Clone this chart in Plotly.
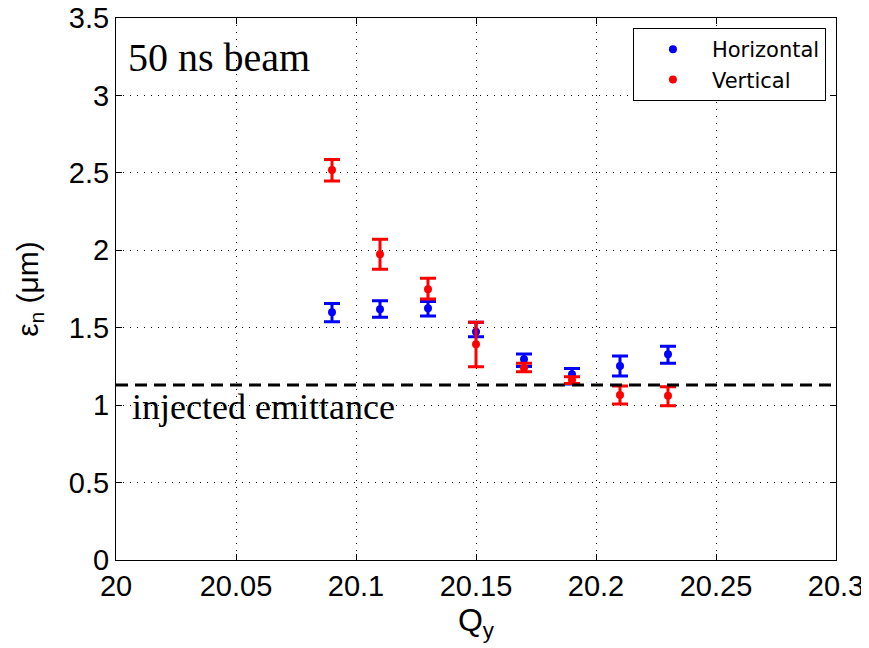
import plotly.graph_objects as go

qy = [20.09, 20.11, 20.13, 20.15, 20.17, 20.19, 20.21, 20.23]

h_val = [1.60, 1.62, 1.625, 1.474, 1.296, 1.20, 1.252, 1.328]
h_hi = [1.657, 1.674, 1.670, 1.535, 1.33, 1.237, 1.317, 1.381]
h_lo = [1.539, 1.567, 1.575, 1.442, 1.25, 1.136, 1.188, 1.27]

v_val = [2.518, 1.975, 1.748, 1.394, 1.24, 1.162, 1.065, 1.061]
v_hi = [2.587, 2.072, 1.819, 1.535, 1.27, 1.183, 1.123, 1.119]
v_lo = [2.447, 1.877, 1.685, 1.248, 1.215, 1.14, 1.007, 0.996]

injected = 1.13

x_ticks = [20, 20.05, 20.1, 20.15, 20.2, 20.25, 20.3]
x_tick_text = ["20", "20.05", "20.1", "20.15", "20.2", "20.25", "20.3"]
y_ticks = [0, 0.5, 1, 1.5, 2, 2.5, 3, 3.5]
y_tick_text = ["0", "0.5", "1", "1.5", "2", "2.5", "3", "3.5"]

SANS = "Liberation Sans, Arial, Helvetica, sans-serif"
SERIF = "Liberation Serif, Times New Roman, serif"


def series(name, vals, hi, lo, color):
    return go.Scatter(
        x=qy, y=vals, mode="markers", name=name,
        marker=dict(color=color, size=8),
        error_y=dict(type="data", symmetric=False,
                     array=[h - v for h, v in zip(hi, vals)],
                     arrayminus=[v - l for v, l in zip(vals, lo)],
                     color=color, thickness=3, width=8),
    )


fig = go.Figure()
fig.add_trace(series("Horizontal", h_val, h_hi, h_lo, "#0000ff"))
fig.add_trace(series("Vertical", v_val, v_hi, v_lo, "#ff0000"))

fig.add_shape(type="line", xref="paper", yref="y", x0=0, x1=1, y0=injected, y1=injected,
              line=dict(color="black", width=3, dash="12px,7px"))

fig.add_annotation(x=0.02, y=0.985, xref="paper", yref="y", text="injected emittance",
                   showarrow=False, xanchor="left", yanchor="middle",
                   font=dict(family=SERIF, size=36, color="black"))
fig.add_annotation(x=0.014, y=0.928, xref="paper", yref="paper", text="50 ns beam",
                   showarrow=False, xanchor="left", yanchor="middle",
                   font=dict(family=SERIF, size=40, color="black"))

axis_common = dict(showline=True, linecolor="black", linewidth=1, mirror="ticks",
                   ticks="inside", ticklen=6, tickcolor="black",
                   showgrid=True, gridcolor="black", griddash="1px,6px", gridwidth=1,
                   zeroline=False, automargin=False, ticklabeloverflow="allow",
                   tickfont=dict(family=SANS, size=29, color="black"))

fig.update_xaxes(range=[20, 20.3], tickvals=x_ticks, ticktext=x_tick_text,
                 title=dict(text="Q<sub>y</sub>", font=dict(family=SANS, size=32, color="black"), standoff=0),
                 **axis_common)
fig.update_yaxes(range=[0, 3.5], tickvals=y_ticks, ticktext=y_tick_text,
                 title=dict(text="ε<sub>n</sub> (μm)", font=dict(family=SANS, size=30, color="black"), standoff=21),
                 **axis_common)

fig.update_layout(
    width=869, height=648,
    margin=dict(l=108, r=41, t=10, b=96),
    plot_bgcolor="white", paper_bgcolor="white",
    showlegend=True,
    legend=dict(x=0.986, y=0.9815, xanchor="right", yanchor="top",
                bordercolor="black", borderwidth=1, bgcolor="white",
                font=dict(family="DejaVu Sans, sans-serif", size=21, color="black"),
                itemwidth=68, tracegroupgap=0),
)

fig.write_html("out.html")
